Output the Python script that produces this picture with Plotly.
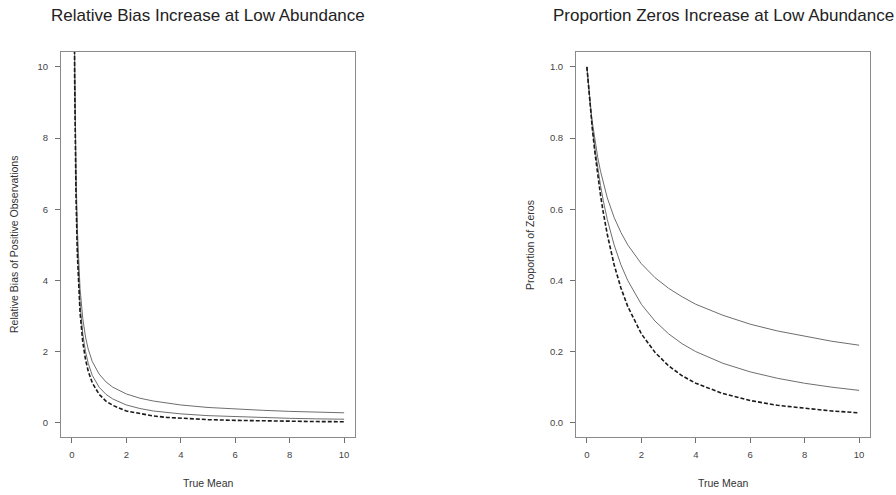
import plotly.graph_objects as go

# ---- data ----
bias_mean = [0.05, 0.1, 0.15, 0.2, 0.3, 0.4, 0.5, 0.6, 0.75, 1, 1.25, 1.5, 2, 2.5, 3, 3.5, 4, 5, 6, 7, 8, 9, 10]
bias_solid_upper = [20.5, 10.48, 7.13, 5.46, 3.77, 2.93, 2.41, 2.07, 1.72, 1.37, 1.15, 1.0, 0.81, 0.69, 0.61, 0.55, 0.5, 0.43, 0.38, 0.35, 0.32, 0.30, 0.28]
bias_solid_lower = [20.0, 10.0, 6.67, 5.0, 3.33, 2.5, 2.0, 1.67, 1.33, 1.0, 0.8, 0.67, 0.5, 0.4, 0.33, 0.29, 0.25, 0.2, 0.17, 0.14, 0.125, 0.11, 0.10]
bias_dashed = [19.75, 9.76, 6.43, 4.76, 3.10, 2.27, 1.78, 1.45, 1.12, 0.8, 0.61, 0.49, 0.33, 0.25, 0.19, 0.15, 0.125, 0.089, 0.067, 0.052, 0.042, 0.034, 0.029]

zero_mean = [0, 0.05, 0.1, 0.15, 0.2, 0.3, 0.4, 0.5, 0.6, 0.75, 1, 1.25, 1.5, 2, 2.5, 3, 3.5, 4, 5, 6, 7, 8, 9, 10]
zero_solid_upper = [1.0, 0.953, 0.913, 0.877, 0.845, 0.791, 0.745, 0.707, 0.674, 0.632, 0.577, 0.535, 0.5, 0.447, 0.408, 0.378, 0.354, 0.333, 0.302, 0.277, 0.258, 0.243, 0.229, 0.218]
zero_solid_lower = [1.0, 0.952, 0.909, 0.870, 0.833, 0.769, 0.714, 0.667, 0.625, 0.571, 0.5, 0.444, 0.4, 0.333, 0.286, 0.25, 0.222, 0.2, 0.167, 0.143, 0.125, 0.111, 0.1, 0.091]
zero_dashed = [1.0, 0.952, 0.907, 0.865, 0.826, 0.756, 0.694, 0.64, 0.592, 0.529, 0.444, 0.379, 0.327, 0.25, 0.198, 0.16, 0.132, 0.111, 0.082, 0.0625, 0.049, 0.04, 0.033, 0.028]

x_ticks = [0, 2, 4, 6, 8, 10]
bias_ticks = [0, 2, 4, 6, 8, 10]
zero_ticks = [0.0, 0.2, 0.4, 0.6, 0.8, 1.0]

titles = ["Relative Bias Increase at Low Abundance", "Proportion Zeros Increase at Low Abundance"]
x_title = "True Mean"
y_titles = ["Relative Bias of Positive Observations", "Proportion of Zeros"]

FONT = "Liberation Sans, Arial, sans-serif"
SOLID = "#6e6e6e"
DASH = "#1a1a1a"

fig = go.Figure()

def add_set(x, ys, xa, ya):
    fig.add_trace(go.Scatter(x=x, y=ys[0], mode="lines", line=dict(color=SOLID, width=1),
                             xaxis=xa, yaxis=ya, showlegend=False, hoverinfo="skip"))
    fig.add_trace(go.Scatter(x=x, y=ys[1], mode="lines", line=dict(color=SOLID, width=1),
                             xaxis=xa, yaxis=ya, showlegend=False, hoverinfo="skip"))
    fig.add_trace(go.Scatter(x=x, y=ys[2], mode="lines", line=dict(color=DASH, width=1.6, dash="4px,2px"),
                             xaxis=xa, yaxis=ya, showlegend=False, hoverinfo="skip"))

add_set(bias_mean, [bias_solid_upper, bias_solid_lower, bias_dashed], "x", "y")
add_set(zero_mean, [zero_solid_upper, zero_solid_lower, zero_dashed], "x2", "y2")

W, H = 896, 495
ax_common = dict(showline=True, mirror=True, linecolor="#8a8a8a", linewidth=1,
                 ticks="outside", ticklen=5, tickcolor="#707070", tickwidth=1,
                 showgrid=False, zeroline=False,
                 tickfont=dict(family=FONT, size=9.5, color="#444444"))

ydom = [1 - 437 / H, 1 - 52 / H]
fig.update_layout(
    width=W, height=H, margin=dict(l=0, r=0, t=0, b=0),
    paper_bgcolor="white", plot_bgcolor="white",
    xaxis=dict(domain=[61 / W, 355 / W], range=[-0.4, 10.4], tickvals=x_ticks, anchor="y",
               ticklabelstandoff=4, **ax_common),
    yaxis=dict(domain=ydom, range=[-0.4, 10.42], tickvals=bias_ticks, anchor="x",
               ticklabelstandoff=5, **ax_common),
    xaxis2=dict(domain=[576 / W, 870 / W], range=[-0.4, 10.4], tickvals=x_ticks, anchor="y2",
                ticklabelstandoff=4, **ax_common),
    yaxis2=dict(domain=ydom, range=[-0.04, 1.042], tickvals=zero_ticks, tickformat=".1f",
                anchor="x2", ticklabelstandoff=5, **ax_common),
)

def A(text, x, y, size, angle=0, color="#333333"):
    return dict(text=text, x=x / W, y=1 - y / H, xref="paper", yref="paper",
                xanchor="center", yanchor="middle", textangle=angle,
                showarrow=False, font=dict(family=FONT, size=size, color=color))

ann = [
    A(titles[0], 208, 16, 17, color="#222222"),
    A(titles[1], 723, 16, 17, color="#222222"),
    A(x_title, 208, 483, 10.5),
    A(x_title, 723, 483, 10.5),
    A(y_titles[0], 14, 245, 10.5, angle=-90),
    A(y_titles[1], 530, 245, 10.5, angle=-90),
]
fig.update_layout(annotations=ann)

fig.write_html("out.html", config={"displayModeBar": False},
               post_script="document.body.style.margin='0';document.body.style.padding='0';document.body.style.overflow='hidden';")
